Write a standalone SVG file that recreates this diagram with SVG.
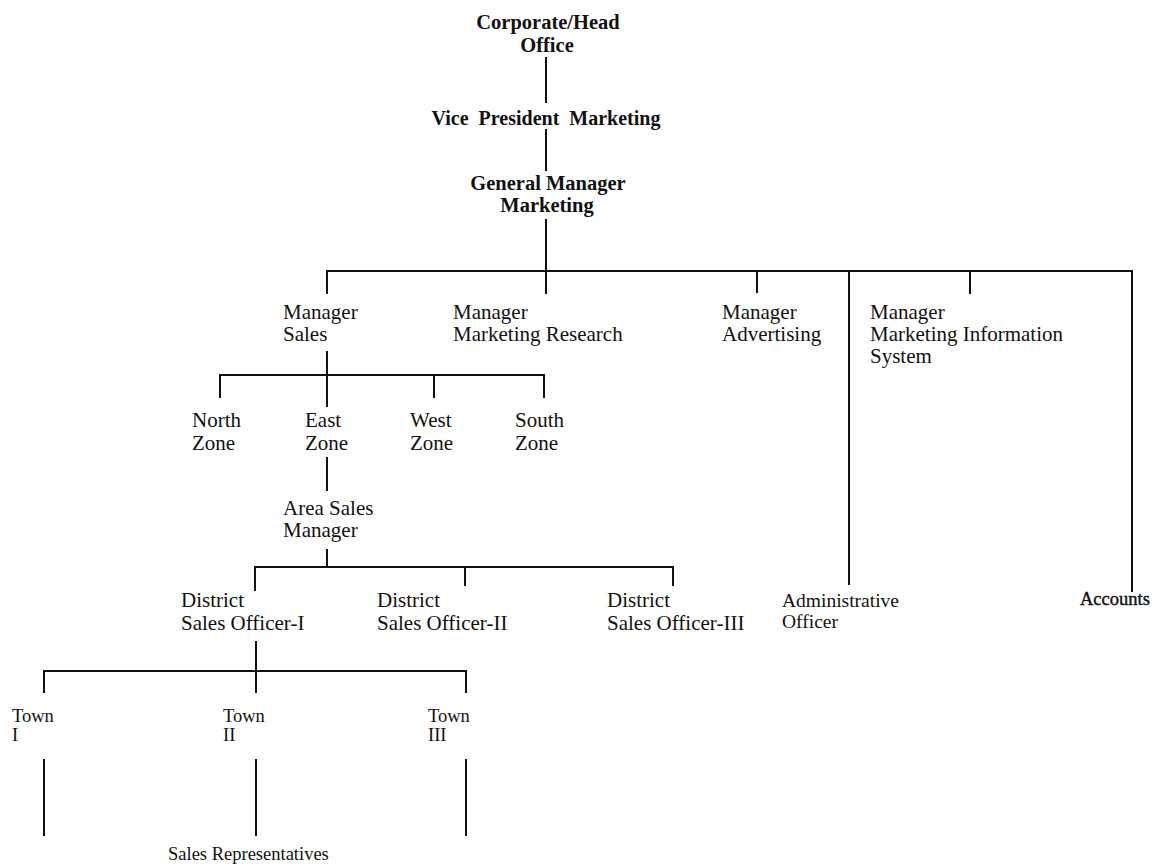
<svg xmlns="http://www.w3.org/2000/svg" width="1152" height="866" viewBox="0 0 1152 866">
<style>
  text { font-family: "Liberation Serif", "Times New Roman", serif; font-size: 21px; fill: #111; }
  .b { font-weight: bold; font-size: 20.5px; }
  .vp { font-size: 20px; word-spacing: 5px; }
  .c { text-anchor: middle; }
  .m { font-size: 19.5px; }
  .s { font-size: 18.5px; }
  .acc { font-size: 18.5px; stroke: #111; stroke-width: 0.4; }
  .ln { stroke: #111; stroke-width: 2; fill: none; stroke-linecap: square; }
</style>
<rect width="1152" height="866" fill="#ffffff"/>
<g id="connectors" class="ln">
  <path d="M546 58V102M546 130V170M546 220V271"/>
  <path d="M327 293V271H1132V591M546 271V293M757 271V292M849 271V584M970 271V293"/>
  <path d="M327 352V406M220 397V375H544V397M434 375V397"/>
  <path d="M327 458V490M327 550V567M255 590V567H673V585M465 567V585"/>
  <path d="M256 642V692M44 692V671H466V692"/>
  <path d="M44 760V835M256 760V835M466 760V835"/>
</g>
<g id="n-corporate"><text class="b c" x="548" y="29">Corporate/Head</text><text class="b c" x="547" y="52">Office</text></g>
<g id="n-vp"><text class="b c vp" x="546" y="125">Vice President Marketing</text></g>
<g id="n-gm"><text class="b c" x="548" y="190">General Manager</text><text class="b c" x="547" y="212">Marketing</text></g>
<g id="n-sales"><text x="283" y="319">Manager</text><text x="283" y="341">Sales</text></g>
<g id="n-research"><text x="453" y="319">Manager</text><text x="453" y="341">Marketing Research</text></g>
<g id="n-advertising"><text x="722" y="319">Manager</text><text x="722" y="341">Advertising</text></g>
<g id="n-mis"><text x="870" y="319">Manager</text><text x="870" y="341">Marketing Information</text><text x="870" y="363">System</text></g>
<g id="n-north"><text x="192" y="427">North</text><text x="192" y="450">Zone</text></g>
<g id="n-east"><text x="305" y="427">East</text><text x="305" y="450">Zone</text></g>
<g id="n-west"><text x="410" y="427">West</text><text x="410" y="450">Zone</text></g>
<g id="n-south"><text x="515" y="427">South</text><text x="515" y="450">Zone</text></g>
<g id="n-asm"><text x="283" y="515">Area Sales</text><text x="283" y="537">Manager</text></g>
<g id="n-dso1"><text x="181" y="607">District</text><text x="181" y="630">Sales Officer-I</text></g>
<g id="n-dso2"><text x="377" y="607">District</text><text x="377" y="630">Sales Officer-II</text></g>
<g id="n-dso3"><text x="607" y="607">District</text><text x="607" y="630">Sales Officer-III</text></g>
<g id="n-admin"><text class="m" x="782" y="607">Administrative</text><text class="m" x="782" y="628">Officer</text></g>
<g id="n-accounts"><text class="acc" x="1080" y="605">Accounts</text></g>
<g id="n-town1"><text class="s" x="12" y="722">Town</text><text class="s" x="12" y="741">I</text></g>
<g id="n-town2"><text class="s" x="223" y="722">Town</text><text class="s" x="223" y="741">II</text></g>
<g id="n-town3"><text class="s" x="428" y="722">Town</text><text class="s" x="428" y="741">III</text></g>
<g id="n-reps"><text class="s" x="168" y="860">Sales Representatives</text></g>
</svg>
